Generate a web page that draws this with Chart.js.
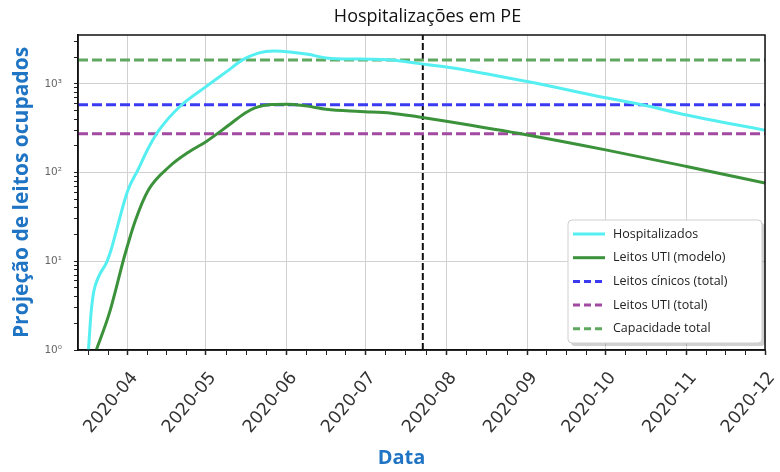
<!DOCTYPE html>
<html><head><meta charset="utf-8">
<script src="https://cdn.jsdelivr.net/npm/chart.js@4.4.0/dist/chart.umd.min.js"></script>
<style>html,body{margin:0;padding:0;background:#fff;}#wrap{width:780px;height:472px;position:relative;}</style>
</head><body><div id="wrap"><canvas id="c" width="780" height="472"></canvas></div>
<script>
// ---------------- data ----------------
const TITLE = 'Hospitalizações em PE';
const Y_TITLE = 'Projeção de leitos ocupados';
const X_TITLE = 'Data';
const MONTH_LABELS = ['2020-04','2020-05','2020-06','2020-07','2020-08','2020-09','2020-10','2020-11','2020-12'];
const X_MIN_DATE = '2020-03-13';
const X_MAX_DATE = '2020-12-01';
const Y_MIN = 1;
const Y_MAX = 3550;

const HOSP_DATES  = ['2020-03-17','2020-03-18','2020-03-19','2020-03-21','2020-03-24','2020-03-26','2020-03-28','2020-04-01','2020-04-05','2020-04-09','2020-04-13','2020-04-21','2020-05-01','2020-05-09','2020-05-15','2020-05-21','2020-05-27','2020-06-02','2020-06-09','2020-06-16','2020-06-29','2020-07-11','2020-07-21','2020-08-01','2020-09-01','2020-10-01','2020-10-15','2020-11-01','2020-12-01'];
const HOSP_VALUES = [1, 2.6, 4.5, 6.8, 9.8, 14.5, 24, 62, 108, 190, 300, 555, 930, 1380, 1860, 2220, 2340, 2290, 2150, 1960, 1900, 1860, 1700, 1550, 1060, 695, 580, 445, 300];

const UTI_DATES  = ['2020-03-20','2020-03-25','2020-03-31','2020-04-04','2020-04-09','2020-04-17','2020-04-25','2020-05-01','2020-05-09','2020-05-16','2020-05-20','2020-05-26','2020-06-01','2020-06-08','2020-06-16','2020-06-29','2020-07-11','2020-07-21','2020-08-01','2020-09-01','2020-10-01','2020-11-01','2020-12-01'];
const UTI_VALUES = [1, 2.6, 12, 29, 64, 117, 175, 223, 330, 470, 540, 585, 590, 565, 517, 488, 467, 425, 378, 265, 180, 117, 76];

const LEITOS_CLINICOS_TOTAL = 580;
const LEITOS_UTI_TOTAL = 273;
const CAPACIDADE_TOTAL = 1860;
const MARKER_DATE = '2020-07-23';

// ---------------- helpers ----------------
function dayOf(s){ const p=s.split('-').map(Number); return (Date.UTC(p[0],p[1]-1,p[2]||1)-Date.UTC(2020,0,1))/86400000; }
const xMin = dayOf(X_MIN_DATE), xMax = dayOf(X_MAX_DATE);
const monthDays = MONTH_LABELS.map(l => dayOf(l + '-01'));
const pts = (ds, vs) => ds.map((d,i)=>({x:dayOf(d), y:vs[i]}));
const flat = v => [{x:xMin,y:v},{x:xMax,y:v}];
const SUP = ['⁰','¹','²','³','⁴'];
const isPow10 = v => Math.abs(Math.log10(v) - Math.round(Math.log10(v))) < 1e-9;

const AXIS_BLUE = '#1f74c4';

const framePlugin = {
  id:'frame',
  beforeDraw(chart){ const c=chart.ctx; c.save(); c.fillStyle='#fff'; c.fillRect(0,0,chart.width,chart.height); c.restore(); },
  afterDatasetsDraw(chart){
    const c=chart.ctx, a=chart.chartArea;
    c.save();
    c.strokeStyle='#111'; c.lineWidth=1.5; c.setLineDash([]);
    c.strokeRect(a.left, a.top, a.right-a.left, a.bottom-a.top);
    // legend
    const bw=194, bh=123, bx=a.right-197, by=a.bottom-130;
    c.fillStyle='rgba(0,0,0,0.18)';
    c.beginPath(); c.roundRect(bx+3,by+3,bw,bh,4); c.fill();
    c.fillStyle='#fff'; c.strokeStyle='#cfcfcf'; c.lineWidth=1;
    c.beginPath(); c.roundRect(bx,by,bw,bh,4); c.fill(); c.stroke();
    const items = chart.data.datasets.filter(d=>!d.hideInLegend);
    c.font='12.5px "Open Sans"'; c.textBaseline='middle'; c.textAlign='left';
    items.forEach((d,i)=>{
      const y = by + 14 + i*23.7;
      c.strokeStyle=d.borderColor; c.lineWidth=d.borderWidth; c.setLineDash(d.borderDash?[7,4]:[]);
      c.beginPath(); c.moveTo(bx+5,y); c.lineTo(bx+37,y); c.stroke();
      c.setLineDash([]);
      c.fillStyle='#222'; c.fillText(d.label, bx+45, y);
    });
    c.restore();
  },
  afterDraw(chart){
    const c=chart.ctx, a=chart.chartArea;
    c.save();
    c.fillStyle='#111'; c.font='18px "Open Sans"'; c.textAlign='center'; c.textBaseline='middle';
    c.fillText(TITLE, (a.left+a.right)/2+6, 17);
    c.fillStyle=AXIS_BLUE; c.font='bold 20px "Open Sans"';
    c.fillText(X_TITLE, (a.left+a.right)/2-20, 458);
    c.restore();
  }
};

new Chart(document.getElementById('c'), {
  type:'line',
  data:{ datasets:[
    {label:'Hospitalizados', data:pts(HOSP_DATES,HOSP_VALUES), borderColor:'#55eff2', borderWidth:3, cubicInterpolationMode:'monotone'},
    {label:'Leitos UTI (modelo)', data:pts(UTI_DATES,UTI_VALUES), borderColor:'#3b923b', borderWidth:3, cubicInterpolationMode:'monotone'},
    {label:'Leitos cínicos (total)', data:flat(LEITOS_CLINICOS_TOTAL), borderColor:'#3a3af0', borderWidth:3, borderDash:[10,4]},
    {label:'Leitos UTI (total)', data:flat(LEITOS_UTI_TOTAL), borderColor:'#a24aa2', borderWidth:3, borderDash:[10,4]},
    {label:'Capacidade total', data:flat(CAPACIDADE_TOTAL), borderColor:'#5fa85f', borderWidth:3, borderDash:[10,4]},
    {label:'marker', hideInLegend:true, data:[{x:dayOf(MARKER_DATE),y:Y_MIN},{x:dayOf(MARKER_DATE),y:Y_MAX}], borderColor:'#111', borderWidth:2, borderDash:[7,3]}
  ]},
  options:{
    responsive:false, animation:false, devicePixelRatio:1,
    layout:{padding:{top:35,right:15,left:0,bottom:0}},
    elements:{point:{radius:0}, line:{fill:false}},
    plugins:{legend:{display:false}, tooltip:{enabled:false}, title:{display:false}},
    scales:{
      x:{ type:'linear', min:xMin, max:xMax,
        afterBuildTicks(s){
          const t=[]; const step=(monthDays[1]-monthDays[0])/4;
          for(let v=monthDays[0]-step; v>xMin; v-=step) t.push({value:v,isMajor:false});
          monthDays.forEach((m,i)=>{ t.push({value:m,isMajor:true});
            if(i<monthDays.length-1){ const n=monthDays[i+1]; for(let k=1;k<4;k++) t.push({value:m+(n-m)*k/4,isMajor:false}); } });
          t.sort((p,q)=>p.value-q.value); s.ticks=t;
        },
        afterFit(s){ s.height=122; s.paddingRight=0; s.paddingLeft=0; },
        ticks:{ autoSkip:false, minRotation:50, maxRotation:50, padding:13, labelOffset:7, color:'#333', font:{family:'DejaVu Sans', size:17.5},
          callback(v){ const i=monthDays.findIndex(m=>Math.abs(m-v)<1e-6); return i>=0?MONTH_LABELS[i]:''; } },
        grid:{ color:c=>(c.tick&&c.tick.isMajor)?'#d2d2d2':'rgba(0,0,0,0)', lineWidth:1, tickLength:5,
          tickColor:c=>'#222', tickWidth:c=>(c.tick&&c.tick.isMajor)?1.5:1 },
        border:{display:true,color:'#111',width:1.5},
        title:{display:false}
      },
      y:{ type:'logarithmic', min:Y_MIN, max:Y_MAX,
        afterBuildTicks(s){ const t=[]; for(let k=0;k<4;k++) for(let m=1;m<10;m++){ const v=m*Math.pow(10,k); if(v<=Y_MAX) t.push({value:v}); } s.ticks=t; },
        afterFit(s){ s.width=78; },
        ticks:{ autoSkip:false, padding:12, color:'#666', font:{family:'DejaVu Sans', size:10.5},
          callback(v){ return isPow10(v) ? '10'+SUP[Math.round(Math.log10(v))] : ''; } },
        grid:{ color:c=>(c.tick&&isPow10(c.tick.value))?'#d2d2d2':'rgba(0,0,0,0)', lineWidth:1, tickLength:4, tickColor:'#222' },
        border:{display:true,color:'#111',width:1.5},
        title:{display:true, text:Y_TITLE, color:AXIS_BLUE, font:{family:'Open Sans', size:21, weight:'bold'}, padding:{top:9,bottom:0}}
      }
    }
  },
  plugins:[framePlugin]
});
</script></body></html>
